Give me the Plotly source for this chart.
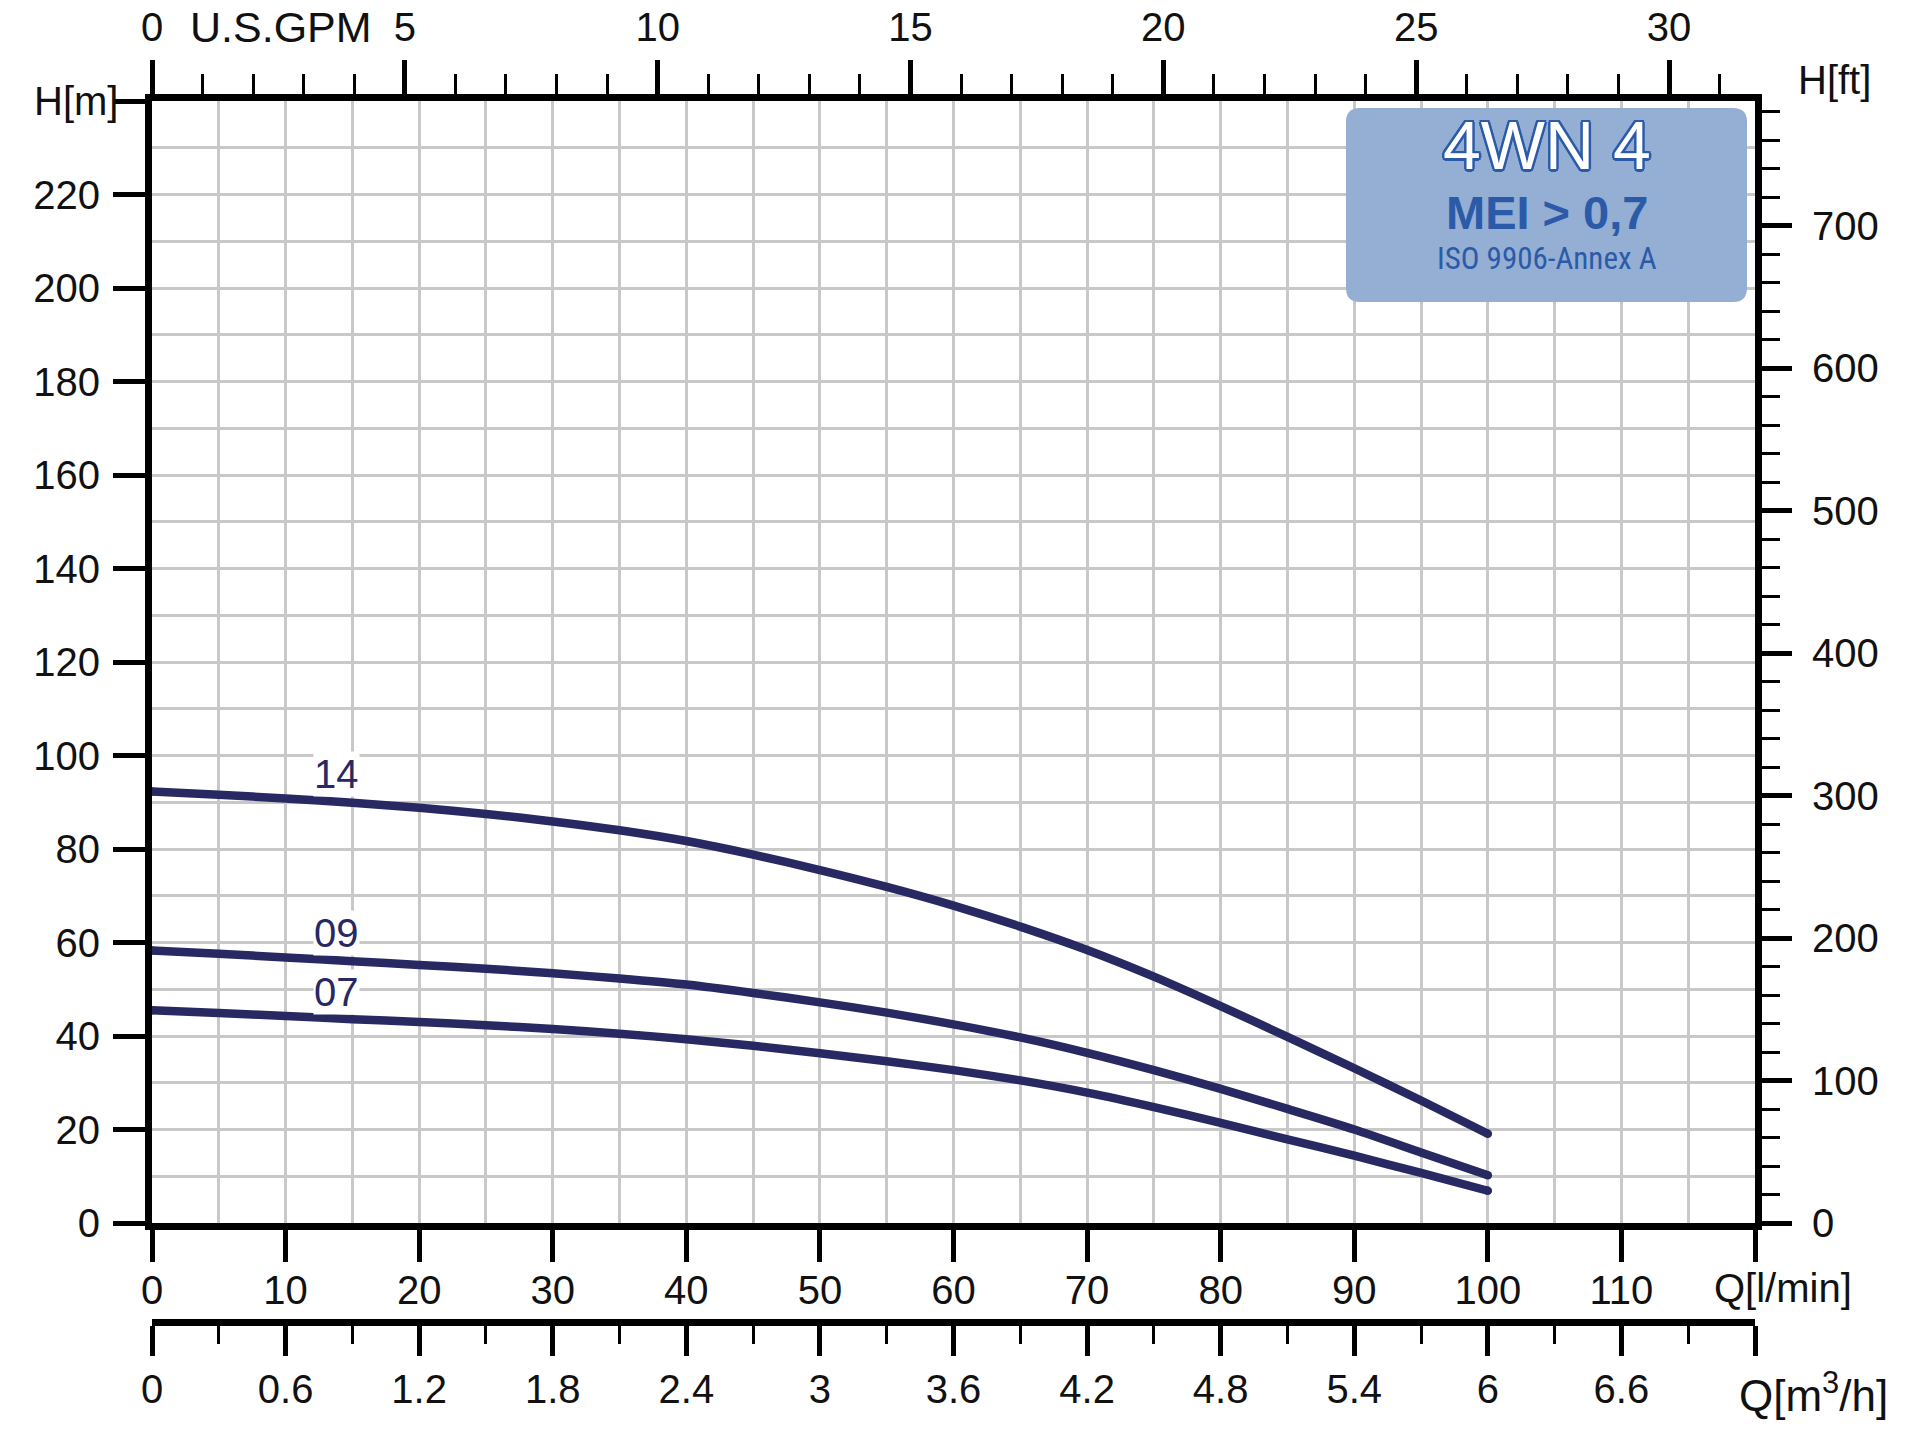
import plotly.graph_objects as go

# ---------------- data ----------------
q_lmin = [0, 5, 10, 15, 20, 25, 30, 35, 40, 45, 50, 55, 60, 65, 70, 75, 80, 85, 90, 95, 100]
h_14 = [92.3, 91.6, 90.8, 89.9, 88.8, 87.5, 85.9, 84.0, 81.7, 78.8, 75.5, 71.9, 67.9, 63.4,
        58.4, 52.7, 46.4, 39.8, 33.1, 26.2, 19.1]
h_09 = [58.3, 57.6, 56.8, 56.0, 55.2, 54.4, 53.4, 52.3, 51.0, 49.2, 47.2, 45.0, 42.5, 39.7,
        36.4, 32.7, 28.7, 24.4, 20.0, 15.1, 10.2]
h_07 = [45.5, 44.9, 44.3, 43.6, 43.0, 42.3, 41.5, 40.5, 39.3, 37.9, 36.3, 34.6, 32.7, 30.5,
        27.9, 24.8, 21.4, 17.9, 14.4, 10.7, 6.9]
curve_names = ["14", "09", "07"]
curve_label_pos = [(13.8, 96.1), (13.8, 62.1), (13.8, 49.5)]

q_ticks = list(range(0, 121, 10))
q_ticklabels = [str(v) for v in range(0, 111, 10)] + [" "]
h_ticks = list(range(0, 241, 20))
h_ticklabels = [str(v) for v in range(0, 221, 20)] + [" "]
gpm_ticks = [0, 5, 10, 15, 20, 25, 30]
ft_ticks = [0, 100, 200, 300, 400, 500, 600, 700]
m3h_ticks = [0, 0.6, 1.2, 1.8, 2.4, 3.0, 3.6, 4.2, 4.8, 5.4, 6.0, 6.6, 7.2]
m3h_ticklabels = ["0", "0.6", "1.2", "1.8", "2.4", "3", "3.6", "4.2", "4.8", "5.4", "6", "6.6", " "]

Q_MAX = 120.0          # l/min
H_MAX = 240.0          # m
GPM_MAX = Q_MAX / 3.785411784
FT_MAX = H_MAX / 0.3048
M3H_MAX = Q_MAX * 0.06

# ---------------- style ----------------
NAVY = "#282862"
BLUE = "#2B5BA8"
GRID = "#C8C8C8"
FONT = "Liberation Sans, Arial, Helvetica, sans-serif"
TICKF = dict(family=FONT, size=40, color="#111111")

W, H = 1920, 1444
ML, MR, MT, MB = 152, 165, 101, 122
plot_w = W - ML - MR
paper_h = H - MT - MB
y_bottom_px = 1223
ydom0 = (H - MB - y_bottom_px) / paper_h

fig = go.Figure()

for name, hv in zip(curve_names, [h_14, h_09, h_07]):
    fig.add_trace(go.Scatter(x=q_lmin, y=hv, mode="lines", name=name,
                             line=dict(color=NAVY, width=8.5, shape="spline", smoothing=0.7),
                             hoverinfo="skip", showlegend=False))
    fig.add_trace(go.Scatter(x=[q_lmin[0], q_lmin[-1]], y=[hv[0], hv[-1]], mode="markers",
                             marker=dict(color=NAVY, size=8.5), cliponaxis=False,
                             hoverinfo="skip", showlegend=False))

# invisible traces so the secondary axes are drawn
fig.add_trace(go.Scatter(x=[0], y=[0], xaxis="x2", yaxis="y", mode="markers",
                         marker=dict(opacity=0), hoverinfo="skip", showlegend=False))
fig.add_trace(go.Scatter(x=[0], y=[0], xaxis="x", yaxis="y2", mode="markers",
                         marker=dict(opacity=0), hoverinfo="skip", showlegend=False))
fig.add_trace(go.Scatter(x=[0], y=[0], xaxis="x3", yaxis="y", mode="markers",
                         marker=dict(opacity=0), hoverinfo="skip", showlegend=False))

common_line = dict(showline=True, linewidth=7, linecolor="black", zeroline=False,
                   ticks="outside", tickcolor="black", tickfont=TICKF, automargin=False)

fig.update_layout(
    width=W, height=H,
    margin=dict(l=ML, r=MR, t=MT, b=MB, pad=0, autoexpand=False),
    paper_bgcolor="white", plot_bgcolor="white",
    xaxis=dict(range=[0, Q_MAX], tickmode="array", tickvals=q_ticks, ticktext=q_ticklabels,
               ticklen=32, tickwidth=4.5, showgrid=True, gridcolor=GRID, gridwidth=2.5,
               minor=dict(tick0=0, dtick=5, showgrid=True, gridcolor=GRID, gridwidth=2.5, ticks=""),
               ticklabelstandoff=-6, **common_line),
    xaxis2=dict(range=[0, GPM_MAX], overlaying="x", side="top", anchor="y",
                tickmode="array", tickvals=gpm_ticks, ticklen=34, tickwidth=4.5, showgrid=False,
                minor=dict(tick0=0, dtick=1, ticks="outside", ticklen=20, tickwidth=2.5,
                           tickcolor="black", showgrid=False),
                ticklabelstandoff=3, **common_line),
    xaxis3=dict(range=[0, M3H_MAX], overlaying="x", side="bottom", anchor="free", position=0,
                tickmode="array", tickvals=m3h_ticks, ticktext=m3h_ticklabels,
                ticklen=30, tickwidth=4.5, showgrid=False,
                minor=dict(tick0=0, dtick=0.3, ticks="outside", ticklen=18, tickwidth=2.5,
                           tickcolor="black", showgrid=False),
                ticklabelstandoff=-1, **common_line),
    yaxis=dict(range=[0, H_MAX], domain=[ydom0, 1], tickmode="array", tickvals=h_ticks,
               ticktext=h_ticklabels, ticklen=32, tickwidth=4.5,
               showgrid=True, gridcolor=GRID, gridwidth=2.5,
               minor=dict(tick0=0, dtick=10, showgrid=True, gridcolor=GRID, gridwidth=2.5, ticks=""),
               ticklabelstandoff=5, **common_line),
    yaxis2=dict(range=[0, FT_MAX], overlaying="y", side="right", anchor="x",
                tickmode="array", tickvals=ft_ticks, ticklen=30, tickwidth=4.5, showgrid=False,
                minor=dict(tick0=0, dtick=20, ticks="outside", ticklen=18, tickwidth=2.5,
                           tickcolor="black", showgrid=False),
                ticklabelstandoff=12, **common_line),
)

ann_font = dict(family=FONT, size=40, color="#111111")
annotations = [
    dict(text="H[m]", xref="paper", x=0, xanchor="right", xshift=-32,
         yref="y", y=H_MAX, yanchor="middle", showarrow=False, font=ann_font),
    dict(text="U.S.GPM", xref="x2", x=2.55, xanchor="center",
         yref="paper", y=1, yanchor="middle", yshift=74, showarrow=False,
         font=dict(family=FONT, size=43, color="#111111")),
    dict(text="H[ft]", xref="paper", x=1, xanchor="center", xshift=79,
         yref="paper", y=1, yanchor="middle", yshift=21, showarrow=False, font=ann_font),
    dict(text="Q[l/min]", xref="paper", x=1, xanchor="center", xshift=28,
         yref="y", y=0, yanchor="middle", yshift=-65, showarrow=False, font=ann_font),
    dict(text="Q[m<sup>3</sup>/h]", xref="paper", x=1, xanchor="center", xshift=58,
         yref="paper", y=0, yanchor="middle", yshift=-70, showarrow=False,
         font=dict(family=FONT, size=44, color="#111111")),
]
for name, (lx, ly) in zip(curve_names, curve_label_pos):
    annotations.append(dict(text=name, xref="x", x=lx, yref="y", y=ly, showarrow=False,
                            xanchor="center", yanchor="middle", bgcolor="white", borderpad=0,
                            font=dict(family=FONT, size=40, color=NAVY)))

# badge (paper coords)
bx0 = (1346 - ML) / plot_w
bx1 = (1747 - ML) / plot_w
by1 = (H - MB - 108) / paper_h
by0 = (H - MB - 302) / paper_h
rx = 14 / plot_w
ry = 14 / paper_h
path = (f"M {bx0+rx},{by1} L {bx1-rx},{by1} Q {bx1},{by1} {bx1},{by1-ry} "
        f"L {bx1},{by0+ry} Q {bx1},{by0} {bx1-rx},{by0} L {bx0+rx},{by0} "
        f"Q {bx0},{by0} {bx0},{by0+ry} L {bx0},{by1-ry} Q {bx0},{by1} {bx0+rx},{by1} Z")
fig.add_shape(type="path", path=path, xref="paper", yref="paper",
              fillcolor="#94AED4", line=dict(width=0), layer="above")

bxc = (bx0 + bx1) / 2
outline = ", ".join(f"{dx}px {dy}px 0 {BLUE}" for dx, dy in
                    [(2.5, 0), (-2.5, 0), (0, 2.5), (0, -2.5), (1.8, 1.8), (-1.8, -1.8),
                     (1.8, -1.8), (-1.8, 1.8)])
annotations += [
    dict(text="4WN 4", xref="paper", x=bxc, yref="paper", y=(H - MB - 145) / paper_h,
         xanchor="center", yanchor="middle", showarrow=False,
         font=dict(family=FONT, size=68, color="white", shadow=outline)),
    dict(text="<b>MEI > 0,7</b>", xref="paper", x=bxc, yref="paper", y=(H - MB - 213) / paper_h,
         xanchor="center", yanchor="middle", showarrow=False,
         font=dict(family=FONT, size=47, color=BLUE)),
    dict(text="ISO 9906-Annex A", xref="paper", x=bxc, yref="paper", y=(H - MB - 259) / paper_h,
         xanchor="center", yanchor="middle", showarrow=False,
         font=dict(family="Liberation Sans Narrow, Arial Narrow, Roboto Condensed, Liberation Sans",
                   size=31, color=BLUE)),
]
fig.update_layout(annotations=annotations)

fig.write_html("out.html")
